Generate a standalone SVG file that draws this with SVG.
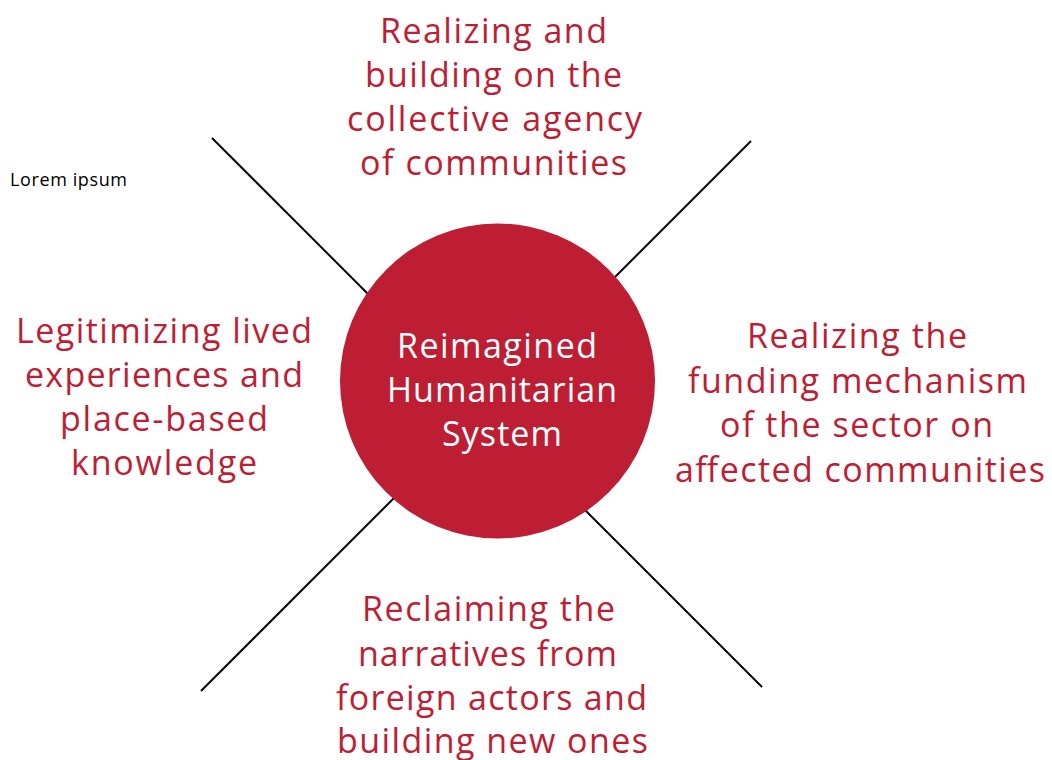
<svg xmlns="http://www.w3.org/2000/svg" width="1052" height="760" viewBox="0 0 1052 760">
  <style>
    .lbl { font-family: "Open Sans", "Liberation Sans", sans-serif; font-size: 34px; fill: #BE1E34; text-anchor: middle; }
    .ctr { font-family: "Open Sans", "Liberation Sans", sans-serif; font-size: 34px; fill: #FFFFFF; text-anchor: middle; }
    .note { font-family: "Open Sans", "Liberation Sans", sans-serif; font-size: 18px; fill: #000000; }
    .conn { stroke: #000000; stroke-width: 2; fill: none; }
  </style>
  <rect width="1052" height="760" fill="#FFFFFF"/>
  <g id="connectors">
    <line class="conn" x1="212" y1="138" x2="380" y2="306"/>
    <line class="conn" x1="751" y1="141" x2="600" y2="292"/>
    <line class="conn" x1="201" y1="691" x2="405" y2="487"/>
    <line class="conn" x1="762" y1="687" x2="575" y2="500"/>
  </g>
  <g id="center">
    <circle cx="497.5" cy="381" r="157.5" fill="#BE1E34"/>
    <text class="ctr" x="497" y="358" textLength="200" lengthAdjust="spacing">Reimagined</text>
    <text class="ctr" x="502" y="402" textLength="230" lengthAdjust="spacing">Humanitarian</text>
    <text class="ctr" x="502" y="446" textLength="120" lengthAdjust="spacing">System</text>
  </g>
  <g id="top">
    <text class="lbl" x="493.5" y="43" textLength="227" lengthAdjust="spacing">Realizing and</text>
    <text class="lbl" x="493.5" y="87" textLength="257" lengthAdjust="spacing">building on the</text>
    <text class="lbl" x="494.5" y="131" textLength="295" lengthAdjust="spacing">collective agency</text>
    <text class="lbl" x="493.5" y="175" textLength="267" lengthAdjust="spacing">of communities</text>
  </g>
  <g id="left">
    <text class="lbl" x="164" y="343" textLength="296" lengthAdjust="spacing">Legitimizing lived</text>
    <text class="lbl" x="164" y="387" textLength="278" lengthAdjust="spacing">experiences and</text>
    <text class="lbl" x="164" y="431" textLength="208" lengthAdjust="spacing">place-based</text>
    <text class="lbl" x="164" y="475" textLength="186" lengthAdjust="spacing">knowledge</text>
  </g>
  <g id="right">
    <text class="lbl" x="857" y="348" textLength="220" lengthAdjust="spacing">Realizing the</text>
    <text class="lbl" x="857.5" y="393" textLength="339" lengthAdjust="spacing">funding mechanism</text>
    <text class="lbl" x="856.5" y="437" textLength="273" lengthAdjust="spacing">of the sector on</text>
    <text class="lbl" x="860" y="482" textLength="370" lengthAdjust="spacing">affected communities</text>
  </g>
  <g id="bottom">
    <text class="lbl" x="488.5" y="621" textLength="253" lengthAdjust="spacing">Reclaiming the</text>
    <text class="lbl" x="487.5" y="666" textLength="259" lengthAdjust="spacing">narratives from</text>
    <text class="lbl" x="491.5" y="710" textLength="311" lengthAdjust="spacing">foreign actors and</text>
    <text class="lbl" x="492.5" y="753" textLength="311" lengthAdjust="spacing">building new ones</text>
  </g>
  <g id="note">
    <text class="note" x="10" y="186" textLength="117" lengthAdjust="spacing">Lorem ipsum</text>
  </g>
</svg>
